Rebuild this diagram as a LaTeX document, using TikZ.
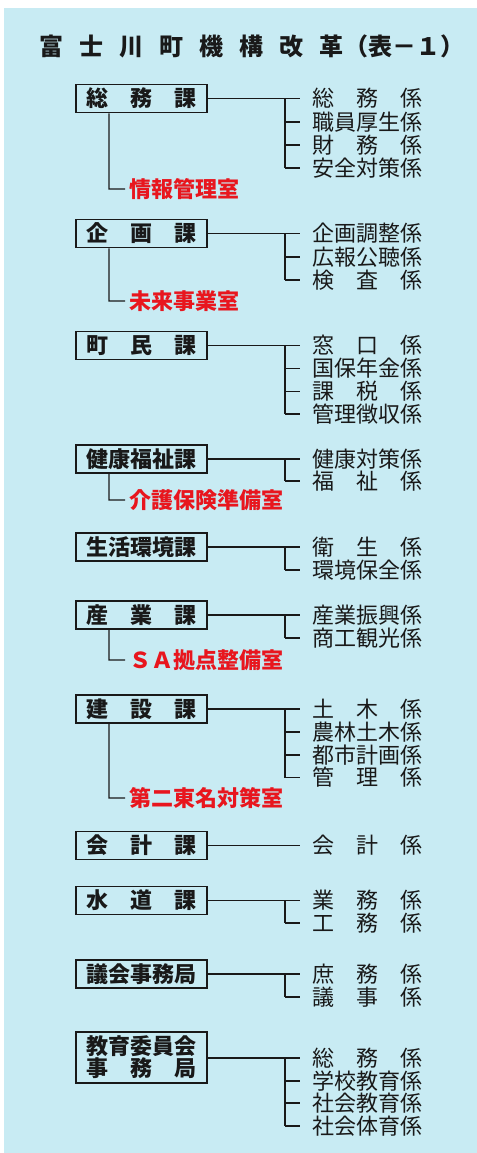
\documentclass[tikz,border=0pt]{standalone}
\usepackage{fontspec}
\newfontfamily\jp{Noto Sans CJK JP}
\definecolor{bgc}{RGB}{200,235,243}
\definecolor{ink}{RGB}{25,25,25}
\definecolor{redc}{RGB}{232,22,30}
\tikzset{
  kabox/.style={draw=ink, line width=1.2pt, minimum width=98.25pt, minimum height=21pt,
    inner sep=0pt, font=\jp\bfseries\fontsize{16.5}{16.3}\selectfont, text=ink, align=center},
  kaone/.style={kabox, text height=14.5pt, text depth=2pt},
  item/.style={anchor=west, inner sep=0pt, font=\jp\fontsize{16.5}{18}\selectfont, text=ink,
    text height=14.5pt, text depth=2pt},
  shitsu/.style={item, font=\jp\bfseries\fontsize{16.5}{18}\selectfont, text=redc},
  conn/.style={draw=ink, line width=0.9pt},
  title/.style={anchor=west, inner sep=0pt, font=\jp\bfseries\fontsize{18}{20}\selectfont, text=ink}
}
\newcommand\tri[3]{\makebox[5em][s]{#1\hfill#2\hfill#3}}
\newcommand\Ka[3]{\node[kaone] (#1) at (141.5,#2) {#3};}
\newcommand\Kk[3]{%
  \node[item] (#1) at (312,#2) {#3};
  \coordinate (#1j) at (285,#2);
  \draw[conn] (#1j) -- ([xshift=-9pt]#1.west);}
\newcommand\Sh[4]{%
  \node[shitsu] (#2) at (129,#3) {#4};
  \coordinate (#2c) at (109,#3);
  \draw[conn] ([xshift=-24.4pt]#1.south) -- (#2c) -- ([xshift=-3pt]#2.west);}
\begin{document}
\begin{tikzpicture}[x=0.75pt,y=-0.75pt]
\useasboundingbox (0,0) rectangle (477,1153);
\fill[white] (0,0) rectangle (477,1153);
\fill[bgc] (4,8) rectangle (477,1153);

\node[title] (title) at (39,46) {富\kern12pt士\kern12pt川\kern12pt町\kern12pt機\kern12pt構\kern12pt改\kern12pt革\kern1pt（表－１）};

% 1 総務課
\Ka{b1}{98.5}{\tri{総}{務}{課}}
\Kk{i11}{98.5}{\tri{総}{務}{係}}
\Kk{i12}{122}{職員厚生係}
\Kk{i13}{145}{\tri{財}{務}{係}}
\Kk{i14}{168}{安全対策係}
\draw[conn] (b1.east) -- ([xshift=-9pt]i11.west);
\draw[conn] (i11j) -- (i14j);
\Sh{b1}{r1}{189}{情報管理室}

% 2 企画課
\Ka{b2}{233.5}{\tri{企}{画}{課}}
\Kk{i21}{233.5}{企画調整係}
\Kk{i22}{257}{広報公聴係}
\Kk{i23}{280}{\tri{検}{査}{係}}
\draw[conn] (b2.east) -- ([xshift=-9pt]i21.west);
\draw[conn] (i21j) -- (i23j);
\Sh{b2}{r2}{301}{未来事業室}

% 3 町民課
\Ka{b3}{345.5}{\tri{町}{民}{課}}
\Kk{i31}{345.5}{\tri{窓}{口}{係}}
\Kk{i32}{368.5}{国保年金係}
\Kk{i33}{391.5}{\tri{課}{税}{係}}
\Kk{i34}{414}{管理徴収係}
\draw[conn] (b3.east) -- ([xshift=-9pt]i31.west);
\draw[conn] (i31j) -- (i34j);

% 4 健康福祉課
\Ka{b4}{459}{健康福祉課}
\Kk{i41}{459}{健康対策係}
\Kk{i42}{481}{\tri{福}{祉}{係}}
\draw[conn] (b4.east) -- ([xshift=-9pt]i41.west);
\draw[conn] (i41j) -- (i42j);
\Sh{b4}{r4}{500}{介護保険準備室}

% 5 生活環境課
\Ka{b5}{547}{生活環境課}
\Kk{i51}{547}{\tri{衛}{生}{係}}
\Kk{i52}{570}{環境保全係}
\draw[conn] (b5.east) -- ([xshift=-9pt]i51.west);
\draw[conn] (i51j) -- (i52j);

% 6 産業課
\Ka{b6}{615}{\tri{産}{業}{課}}
\Kk{i61}{615}{産業振興係}
\Kk{i62}{638}{商工観光係}
\draw[conn] (b6.east) -- ([xshift=-9pt]i61.west);
\draw[conn] (i61j) -- (i62j);
\Sh{b6}{r6}{660}{ＳＡ拠点整備室}

% 7 建設課
\Ka{b7}{709}{\tri{建}{設}{課}}
\Kk{i71}{709}{\tri{土}{木}{係}}
\Kk{i72}{732}{農林土木係}
\Kk{i73}{755}{都市計画係}
\Kk{i74}{777.5}{\tri{管}{理}{係}}
\draw[conn] (b7.east) -- ([xshift=-9pt]i71.west);
\draw[conn] (i71j) -- (i74j);
\Sh{b7}{r7}{798}{第二東名対策室}

% 8 会計課
\Ka{b8}{845.5}{\tri{会}{計}{課}}
\Kk{i81}{845.5}{\tri{会}{計}{係}}
\draw[conn] (b8.east) -- ([xshift=-9pt]i81.west);

% 9 水道課
\Ka{b9}{900.5}{\tri{水}{道}{課}}
\Kk{i91}{900.5}{\tri{業}{務}{係}}
\Kk{i92}{923}{\tri{工}{務}{係}}
\draw[conn] (b9.east) -- ([xshift=-9pt]i91.west);
\draw[conn] (i91j) -- (i92j);

% 10 議会事務局
\Ka{b10}{974}{議会事務局}
\Kk{i101}{974}{\tri{庶}{務}{係}}
\Kk{i102}{997}{\tri{議}{事}{係}}
\draw[conn] (b10.east) -- ([xshift=-9pt]i101.west);
\draw[conn] (i101j) -- (i102j);

% 11 教育委員会事務局
\node[kabox, minimum height=38.25pt] (b11) at (141.5,1057.5) {教育委員会\\\tri{事}{務}{局}};
\Kk{i111}{1058}{\tri{総}{務}{係}}
\Kk{i112}{1081}{学校教育係}
\Kk{i113}{1103}{社会教育係}
\Kk{i114}{1126}{社会体育係}
\draw[conn] (b11.east |- i111j) -- ([xshift=-9pt]i111.west);
\draw[conn] (i111j) -- (i114j);
\end{tikzpicture}
\end{document}
